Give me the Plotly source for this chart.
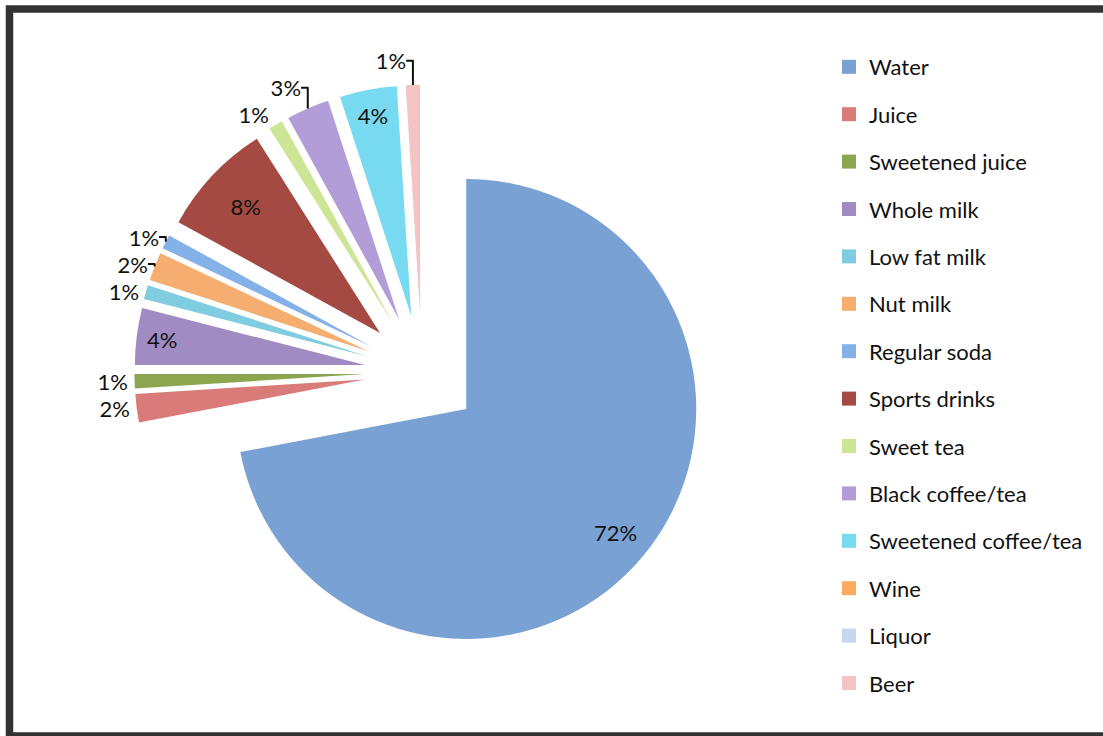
import math
import plotly.graph_objects as go

# Beverage shares (percent of drinks reported)
beverages = [
    "Water", "Juice", "Sweetened juice", "Whole milk", "Low fat milk",
    "Nut milk", "Regular soda", "Sports drinks", "Sweet tea",
    "Black coffee/tea", "Sweetened coffee/tea", "Wine", "Liquor", "Beer",
]
shares = [72, 2, 1, 4, 1, 2, 1, 8, 1, 3, 4, 0, 0, 1]

slice_colors = [
    "#79a1d4", "#d97c79", "#8ba64e", "#a08bc2", "#80cde2",
    "#f5ad70", "#84b1e8", "#a54a43", "#cde695",
    "#b39dd9", "#78daf0", "#fbaa5e", "#c6d6ef", "#f4c3c3",
]

label_side = [
    "inside", "outside", "outside", "inside", "outside",
    "outside", "outside", "inside", "outside",
    "outside", "inside", "outside", "outside", "outside",
]

FONT = "Lato"
W, H = 1103, 736
PULL = 0.25
DOM_X = [0.1219, 0.6432]
DOM_Y = [0.1035, 0.8848]

label_text = [f"{v}%" if v > 0 else "" for v in shares]
# the big Water slice gets its label placed near the rim, drawn separately below
pie_text = [""] + label_text[1:]

fig = go.Figure()

fig.add_trace(go.Pie(
    labels=beverages,
    values=shares,
    sort=False,
    direction="clockwise",
    rotation=0,
    pull=PULL,
    marker=dict(colors=slice_colors, line=dict(width=0)),
    text=pie_text,
    textinfo="text",
    textposition=label_side,
    insidetextorientation="horizontal",
    textfont=dict(family=FONT, size=22, color="#111111"),
    insidetextfont=dict(family=FONT, size=22, color="#111111"),
    outsidetextfont=dict(family=FONT, size=22, color="#111111"),
    showlegend=False,
    domain=dict(x=DOM_X, y=DOM_Y),
    hoverinfo="label+percent",
))

# Water label: along the slice bisector, at 84% of the radius from the slice tip
half_w = W * (DOM_X[1] - DOM_X[0]) / 2
half_h = H * (DOM_Y[1] - DOM_Y[0]) / 2
radius = min(half_w, half_h) / (1 + PULL)
cx = W * (DOM_X[0] + DOM_X[1]) / 2
cy = H * (1 - (DOM_Y[0] + DOM_Y[1]) / 2)
mid_angle = math.radians(shares[0] / sum(shares) * 360 / 2)
dist = radius * (PULL + 0.84)
lx = cx + dist * math.sin(mid_angle)
ly = cy - dist * math.cos(mid_angle)

annotations = [dict(
    x=lx / W, y=1 - ly / H, xref="paper", yref="paper",
    text=label_text[0], showarrow=False,
    font=dict(family=FONT, size=22, color="#111111"),
    xanchor="center", yanchor="middle",
)]

# legend entries, one group per beverage so the rows can be spaced out
for name, c in zip(beverages, slice_colors):
    fig.add_trace(go.Scatter(
        x=[None], y=[None], mode="markers", name=name, legendgroup=name,
        marker=dict(symbol="square", size=14, color=c),
        showlegend=True, hoverinfo="skip",
    ))

fig.update_layout(
    width=W, height=H,
    margin=dict(l=0, r=0, t=0, b=0, autoexpand=False),
    paper_bgcolor="white", plot_bgcolor="white",
    xaxis=dict(visible=False), yaxis=dict(visible=False),
    legend=dict(
        x=829 / W, y=1 - 46 / H, xanchor="left", yanchor="top",
        font=dict(family=FONT, size=22, color="#111111"),
        tracegroupgap=15.8, bgcolor="rgba(0,0,0,0)", borderwidth=0,
        itemclick=False, maxheight=H,
    ),
    annotations=annotations,
    shapes=[dict(
        type="rect", xref="paper", yref="paper",
        x0=9.5 / W, x1=1.02, y0=0.0, y1=1 - 9 / H,
        line=dict(color="#333333", width=7.5), fillcolor="rgba(0,0,0,0)",
        layer="above",
    )],
)

fig.write_html("out.html")
